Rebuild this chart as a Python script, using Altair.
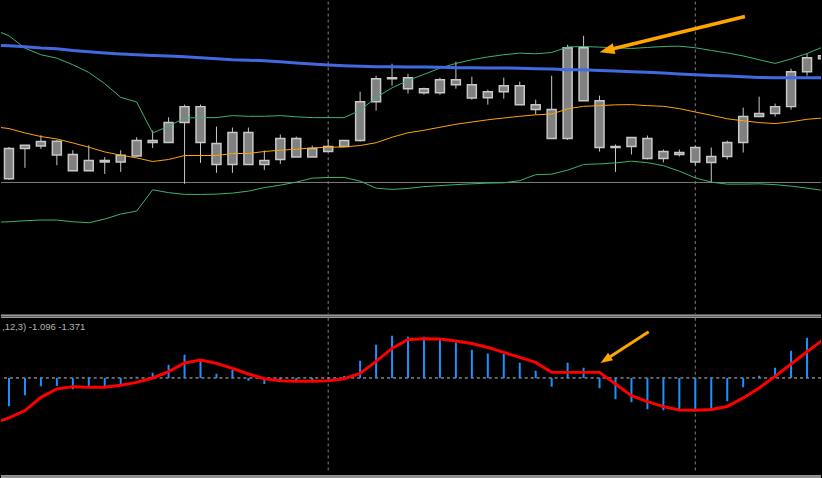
import altair as alt
import pandas as pd

# ---------------- data ----------------
# bar index (time) of every candle, 0 = left-most visible candle
BARS = list(range(52))

# candle bodies (upper / lower end) and wicks, price in points
BODY_HI = [166.7, 170, 173.7, 174, 160.7, 154.7, 154.7, 160, 174.7, 174.7,
           192.7, 208.7, 208.7, 171.7, 182.7, 182.7, 154.7, 176.7, 176.7, 166.7,
           168.7, 174.7, 213.7, 236.7, 237.7, 237.7, 226.7, 235.7, 235.7, 230.7,
           223.7, 229.7, 229.7, 210.7, 205.7, 267.7, 267.7, 214.7, 168.7, 177.7,
           176.7, 163.7, 162.7, 167.7, 158.7, 172.7, 198.7, 201.7, 208.7, 243.7,
           257.7, 259.7]
BODY_LO = [136.3, 166.7, 169.3, 160.3, 144.3, 144.3, 153.3, 153.3, 159.3, 172.7,
           172.7, 192.7, 172.7, 150.7, 150.7, 150.7, 150.7, 155.7, 158.3, 158.3,
           163.7, 168.7, 174.7, 213.7, 236.7, 226.7, 222.7, 222.7, 230.7, 217.3,
           217.7, 223.7, 210.7, 205.7, 176.7, 176.7, 214.7, 167.7, 167.7, 168.7,
           156.7, 156.7, 160.7, 153.3, 152.7, 158.7, 172.7, 198.7, 201.7, 208.7,
           243.7, 256.7]
HIGH = [168.3, 170, 180, 175.3, 165, 170, 158, 165, 178, 184.7,
        198, 210.7, 210.7, 188.7, 187.7, 187.7, 164.7, 180.7, 178.7, 169.7,
        175.7, 174.7, 223.7, 239.7, 251.7, 241.7, 227.7, 237.7, 253.7, 238.7,
        225.7, 237.7, 233.7, 215.7, 239.7, 270.7, 279.7, 219.7, 170.7, 177.7,
        179.7, 165.7, 165.7, 169.7, 167.7, 174.7, 207.7, 218.7, 211.7, 246.7,
        261.7, 264]
LOW = [135.3, 147.3, 166.3, 150, 144.3, 144.3, 141.3, 143.3, 158.3, 167.3,
       172.7, 131.3, 152.3, 142.3, 142.3, 150.7, 145.3, 151.3, 158.3, 158.3,
       163.7, 168.7, 173.7, 204.7, 229.7, 221.7, 220.7, 220.7, 226.7, 215.7,
       210.7, 216.7, 210.7, 200.7, 176.7, 175.3, 214.7, 163.7, 143.3, 160.7,
       155.7, 152.7, 158.7, 149.7, 132.7, 155.7, 162.7, 198.7, 198.7, 205.7,
       239.7, 254]

# indicator lines: first value is the reading at the left edge of the chart
LINE_BARS = [-0.5] + list(range(52))
MA_SLOW = [270, 269.7, 268.7, 267.5, 266.7, 265, 263.7, 262.5, 261.5, 260.7, 260,
           259.5, 258.7, 257.7, 256.7, 255.7, 255.3, 254.7, 253.7, 252.5, 251.5,
           250.5, 249.7, 249.2, 248.7, 248.7, 248.5, 248.5, 248.2, 247.7, 247.7,
           247.5, 247.5, 247.2, 246.7, 246.5, 245.7, 245.7, 245, 244.5, 243.7,
           243.2, 242.5, 241.5, 240.7, 240, 239.3, 238.7, 238, 237.7, 237.7,
           237.7, 237.7]
BB_UPPER = [283, 279.7, 267.3, 260.7, 257.3, 250.7, 243, 231.7, 218, 213.3, 182.3,
            189, 197.3, 197.7, 197.7, 199.7, 199, 199, 199.7, 198.5, 197.7,
            197.7, 197.7, 205, 218, 227.5, 235, 241, 247.3, 252, 255.7,
            258.5, 260.7, 262.3, 261.7, 263, 268.5, 269, 268.3, 267.7, 267,
            268, 269, 269.3, 267.7, 265, 262.5, 259.5, 255.7, 252, 256.5,
            262, 268.5]
BB_MIDDLE = [187.7, 186.7, 182.3, 178.7, 176.3, 172.3, 168, 163.3, 160, 157.3, 153.7,
             155.7, 159.7, 159.7, 159.7, 161.7, 161.7, 163.7, 165, 166, 167.3,
             168, 168.3, 169.7, 172.5, 178, 182.5, 185, 188, 191, 193.3,
             195.5, 197.3, 199, 200.5, 201.3, 206.5, 209, 209.7, 210.5, 210.7,
             209.7, 209, 206.7, 203.3, 200, 196.5, 194.5, 192.7, 191.7, 193.5,
             196, 197.3]
BB_LOWER = [93, 93.3, 94.3, 95, 95, 93.3, 92.3, 96, 101, 104, 125.3,
            122.5, 120.7, 120.7, 121, 122, 124, 127.5, 130, 133, 137,
            137.7, 137.7, 134, 127, 125.7, 126.7, 128.5, 129.5, 130.5, 131.3,
            132, 132.3, 134.5, 140.5, 141, 145, 150.7, 151.3, 152.3, 154,
            152.5, 149.5, 144, 137.3, 133, 131, 131, 131.3, 130.5, 129,
            127, 124.7]
MACD_SIGNAL = [-42.7, -40, -32.7, -19.4, -11, -8.7, -9.4, -9.4, -7.4, -4.4, 0,
               6.3, 15, 18, 14.6, 9.6, 4, -0.7, -2.7, -3.4, -3.4,
               -2.7, -0.7, 4.6, 16.6, 29.6, 38.6, 39.3, 39, 37, 34.6,
               30.6, 25.6, 20.6, 15.6, 5.6, 5.6, 5.6, 5.6, -6, -17.7,
               -23.7, -28.7, -32, -32.4, -31.7, -28.7, -20, -10, 1.6, 14,
               26.3, 38.3]
MACD_HIST = [-28.4, -17.4, -8.4, -8, -11.4, -8, -8.7, -6.7, 1.3, 5.3,
             13.3, 23.3, 18, 4.3, 8, -2.7, -6, -2.7, -2.7, -2,
             -1.4, 2, 17.3, 33.3, 42.3, 41.3, 41.3, 38, 35.6, 28.3,
             24.6, 24, 15.3, 7.3, -8.7, 15.3, 10.3, -10.4, -21.4, -24.4,
             -31.4, -32.4, -32.4, -32.4, -31.4, -23.4, -9.4, 2.3, 10.3, 27.3,
             40.3, None]

HLINE_LEVEL = [132.7]          # horizontal price line
GRID_BARS = [20, 43]           # vertical dashed separators
MACD_LABEL = ",12,3) -1.096 -1.371"

# arrow annotations: tail, neck (head base) and tip
ARROW_TOP = {"x0": [46.11], "y0": [299.0], "x1": [37.73], "y1": [266.2], "xt": [37.0], "yt": [263.3]}
ARROW_BOT = {"x0": [40.08], "y0": [46.3], "x1": [37.59], "y1": [20.4], "xt": [37.06], "yt": [15.0]}

# ---------------- chart ----------------
W = 822
H_TOP = 314
H_BOT = 164
ORANGE = "#FFA500"
GREEN = "#3CB371"
HEAD = "M0,0L0.75,2L-0.75,2Z"

XS = alt.Scale(domain=[-0.5, 50.875], nice=False, zero=False, padding=0)
YT = alt.Scale(domain=[0, 314], nice=False, zero=False, padding=0)
YB = alt.Scale(domain=[-100.7, 63.3], nice=False, zero=False, padding=0)

candles = pd.DataFrame({"bar": BARS, "body_hi": BODY_HI, "body_lo": BODY_LO,
                        "high": HIGH, "low": LOW})
lines = pd.DataFrame({"bar": LINE_BARS, "ma": MA_SLOW, "up": BB_UPPER,
                      "mid": BB_MIDDLE, "lo": BB_LOWER, "sig": MACD_SIGNAL})
hist = pd.DataFrame({"bar": BARS, "hist": MACD_HIST, "zero": [0] * len(BARS)})

def xq(field="bar"):
    return alt.X(f"{field}:Q", scale=XS, axis=None)

# ---- top (price) panel ----
grid_top = alt.Chart(pd.DataFrame({"bar": GRID_BARS})).mark_rule(
    color="#808080", strokeDash=[3, 3], strokeWidth=1).encode(
    x=xq(), y=alt.value(0), y2=alt.value(313))

hline = alt.Chart(pd.DataFrame({"level": HLINE_LEVEL})).mark_rule(
    color="#808080", strokeWidth=1).encode(y=alt.Y("level:Q", scale=YT, axis=None))

wicks = alt.Chart(candles).mark_rule(color="#C8C8C8", strokeWidth=1, clip=True).encode(
    x=xq(), y=alt.Y("low:Q", scale=YT, axis=None), y2="high:Q")
bodies = alt.Chart(candles).mark_bar(size=9, fill="#808080", stroke="#C8C8C8",
                                     strokeWidth=1.5, clip=True).encode(
    x=xq(), y=alt.Y("body_lo:Q", scale=YT, axis=None), y2="body_hi:Q")

def line(field, color, width, scale):
    return alt.Chart(lines).mark_line(color=color, strokeWidth=width, clip=True).encode(
        x=xq(), y=alt.Y(f"{field}:Q", scale=scale, axis=None))

def arrow(data, scale, width, size, angle):
    df = pd.DataFrame(data)
    shaft = alt.Chart(df).mark_rule(color=ORANGE, strokeWidth=width, strokeCap="butt").encode(
        x=xq("x0"), y=alt.Y("y0:Q", scale=scale, axis=None), x2="x1:Q", y2="y1:Q")
    head = alt.Chart(df).mark_point(shape=HEAD, filled=True, size=size, angle=angle,
                                    color=ORANGE, opacity=1, strokeWidth=0).encode(
        x=xq("xt"), y=alt.Y("yt:Q", scale=scale, axis=None))
    return shaft + head

top = alt.layer(
    grid_top, hline, wicks, bodies,
    line("lo", GREEN, 1, YT), line("up", GREEN, 1, YT), line("mid", ORANGE, 1, YT),
    line("ma", "#4169E1", 3, YT),
    arrow(ARROW_TOP, YT, 3.5, 225, 256.2),
).properties(width=W, height=H_TOP)

# ---- bottom (MACD) panel ----
sep = alt.Chart(pd.DataFrame({"k": [0, 1, 2, 3]})).mark_rule(color="#9A9A9A", strokeWidth=1)
seps = alt.layer(
    sep.encode(y=alt.value(0.5)), sep.encode(y=alt.value(2.5)),
    sep.encode(y=alt.value(161.5)), sep.encode(y=alt.value(163.5)),
)
grid_bot = alt.Chart(pd.DataFrame({"bar": GRID_BARS})).mark_rule(
    color="#808080", strokeDash=[3, 3], strokeWidth=1).encode(
    x=xq(), y=alt.value(3), y2=alt.value(158))
zero = alt.Chart(pd.DataFrame({"zero": [0]})).mark_rule(
    color="#C8C8C8", strokeDash=[3, 3], strokeWidth=1).encode(
    y=alt.Y("zero:Q", scale=YB, axis=None))
bars = alt.Chart(hist).mark_rule(color="#1E90FF", strokeWidth=2, clip=True).encode(
    x=xq(), y=alt.Y("hist:Q", scale=YB, axis=None), y2="zero:Q")
label = alt.Chart(pd.DataFrame({"t": [MACD_LABEL]})).mark_text(
    align="left", baseline="alphabetic", font="Liberation Sans", fontSize=9.5,
    color="#B4B4B4").encode(x=alt.value(1), y=alt.value(15), text="t:N")

bottom = alt.layer(
    seps, grid_bot, zero, bars, line("sig", "#FF0000", 3, YB), label,
    arrow(ARROW_BOT, YB, 3, 144, 237.1),
).properties(width=W, height=H_BOT)

chart = alt.vconcat(top, bottom, spacing=0).properties(
    background="#000000", padding=0
).configure_view(stroke=None).configure_concat(spacing=0)

chart.save("out.html", embed_options={"renderer": "svg", "actions": False})
